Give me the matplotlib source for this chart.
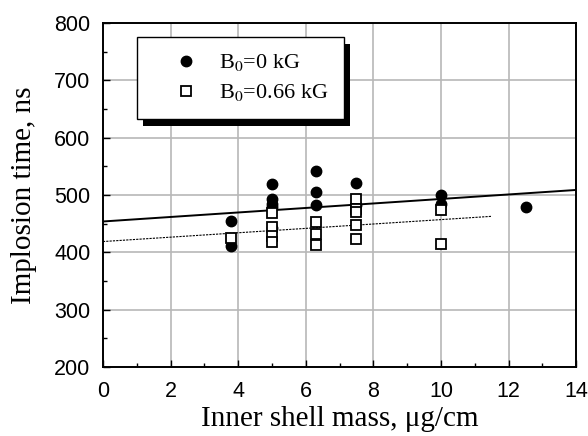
import matplotlib
matplotlib.use("Agg")
import matplotlib.pyplot as plt
from matplotlib.patches import Rectangle
from matplotlib.ticker import MultipleLocator

# Data
b0_x = [3.8, 3.8, 5, 5, 5, 5, 5, 6.3, 6.3, 6.3, 7.5, 7.5, 10, 10, 12.5]
b0_y = [454, 411, 519, 494, 485, 480, 443, 542, 505, 482, 521, 482, 500, 484, 479]
b066_x = [3.8, 5, 5, 5, 5, 6.3, 6.3, 6.3, 7.5, 7.5, 7.5, 7.5, 7.5, 10, 10]
b066_y = [425, 469, 445, 429, 419, 453, 432, 413, 493, 476, 470, 447, 423, 474, 414]
fit0_x = [0, 14]
fit0_y = [454, 509]
fit066_x = [0, 11.5]
fit066_y = [419, 463]

xticks = [0, 2, 4, 6, 8, 10, 12, 14]
yticks = [200, 300, 400, 500, 600, 700, 800]

plt.rcParams['mathtext.fontset'] = 'stix'

fig = plt.figure(figsize=(5.88, 4.36), dpi=100)
ax = fig.add_axes([0.175, 0.158, 0.805, 0.789])

ax.plot(fit0_x, fit0_y, color='black', lw=1.4, zorder=2)
ax.plot(fit066_x, fit066_y, color='black', lw=0.8, ls=(0, (2, 1)), zorder=2)
ax.plot(b0_x, b0_y, 'o', color='black', ms=7.5, ls='none', zorder=3,
        label=r'B$_{0}$=0 kG')
ax.plot(b066_x, b066_y, 's', mfc='white', mec='black', mew=1.3, ms=7.5,
        ls='none', zorder=4, label=r'B$_{0}$=0.66 kG')

ax.set_xlim(0, 14)
ax.set_ylim(200, 800)
ax.set_xticks(xticks)
ax.set_yticks(yticks)
ax.xaxis.set_minor_locator(MultipleLocator(1))
ax.yaxis.set_minor_locator(MultipleLocator(50))
ax.tick_params(which='both', direction='in', top=False, right=False,
               labelsize=15.5, width=1.0)
ax.tick_params(which='major', length=5)
ax.tick_params(axis='x', which='major', pad=10)
ax.tick_params(axis='y', which='major', pad=9)
ax.tick_params(which='minor', length=3)
for lbl in ax.get_xticklabels() + ax.get_yticklabels():
    lbl.set_fontfamily('Liberation Sans')
ax.grid(True, which='major', color='#b8b8b8', lw=1.2, zorder=0)
ax.set_axisbelow(True)
for s in ax.spines.values():
    s.set_linewidth(1.4)

ax.set_xlabel('Inner shell mass, μg/cm', fontfamily='Liberation Serif',
              fontsize=21, labelpad=3)
ax.set_ylabel('Implosion time, ns', fontfamily='Liberation Serif',
              fontsize=21, labelpad=12)

leg_kw = dict(loc='upper left', frameon=True, fancybox=False,
              edgecolor='black', framealpha=1,
              prop={'family': 'Liberation Serif', 'size': 16},
              handletextpad=0.0, borderpad=0.7, handlelength=3.0,
              labelspacing=0.4, borderaxespad=0)

leg = ax.legend(bbox_to_anchor=(0.072, 0.96), **leg_kw)
fig.canvas.draw()
bb = leg.get_window_extent().transformed(fig.transFigure.inverted())
leg.remove()

off_x = 6 / 588
off_y = 7 / 436
shadow = Rectangle((bb.x0 + off_x, bb.y0 - off_y), bb.width, bb.height,
                   transform=fig.transFigure, facecolor='black',
                   edgecolor='none', zorder=9)
fig.patches.append(shadow)
leg2 = fig.legend(*ax.get_legend_handles_labels(),
                  bbox_to_anchor=(bb.x0, bb.y1), **leg_kw)
leg2.get_frame().set_linewidth(1.0)
leg2.set_zorder(10)

fig.savefig('out.png', dpi=100)
